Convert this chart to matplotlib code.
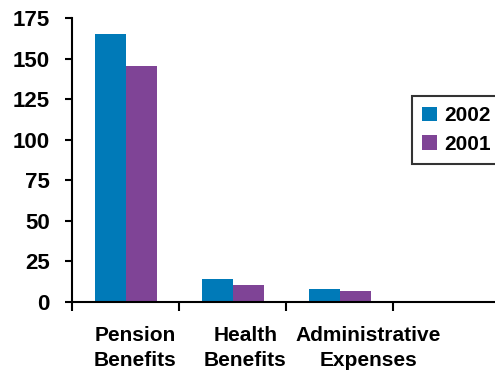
import matplotlib
matplotlib.use("Agg")
import matplotlib.pyplot as plt
import numpy as np

categories = ["Pension\nBenefits", "Health\nBenefits", "Administrative\nExpenses"]
years = ["2002", "2001"]
v2002 = [165, 14.2, 8.0]
v2001 = [145.3, 10.5, 6.8]
yticks = [0, 25, 50, 75, 100, 125, 150, 175]
colors = ["#007AB8", "#7F4496"]

plt.rcParams["font.family"] = "Liberation Sans"
plt.rcParams["font.weight"] = "bold"

fig = plt.figure(figsize=(4.95, 3.71), dpi=100)
ax = fig.add_axes([72 / 495, 69 / 371, 428 / 495, 284 / 371])

x = np.arange(len(categories)) + 0.505
w = 0.29
ax.bar(x - w / 2, v2002, w, color=colors[0], label=years[0])
ax.bar(x + w / 2, v2001, w, color=colors[1], label=years[1])

ax.set_xlim(0, 4)
ax.set_ylim(0, 175)
ax.set_yticks(yticks)
ax.set_yticklabels([str(v) for v in yticks], fontsize=16, fontweight="bold", family="Liberation Sans")
ax.set_xticks([0, 1, 2, 3])
ax.set_xticklabels([])
# category labels sit a little right of the bar groups, as in the original
ax.set_xticks([0.59, 1.62, 2.77], minor=True)
ax.set_xticklabels(categories, minor=True, fontsize=15, fontweight="bold",
                   family="Liberation Sans", linespacing=1.45)
ax.tick_params(axis="x", which="major", length=6.5, width=1.5, direction="out")
ax.tick_params(axis="x", which="minor", length=0, pad=17)
ax.tick_params(axis="y", length=5, width=1.5, pad=11)

for s in ["top", "right"]:
    ax.spines[s].set_visible(False)
for s in ["left", "bottom"]:
    ax.spines[s].set_linewidth(1.5)

leg = ax.legend(loc="upper left", bbox_to_anchor=(412 / 495, 1 - 96 / 371),
                bbox_transform=fig.transFigure, fancybox=False, frameon=True,
                prop={"family": "Liberation Sans", "size": 15, "weight": "bold"},
                handlelength=0.7, handleheight=0.7,
                handletextpad=0.35, borderpad=0.5, labelspacing=0.45, borderaxespad=0)
leg.get_frame().set_edgecolor("black")
leg.get_frame().set_linewidth(1.5)

fig.savefig("out.png", dpi=100)
